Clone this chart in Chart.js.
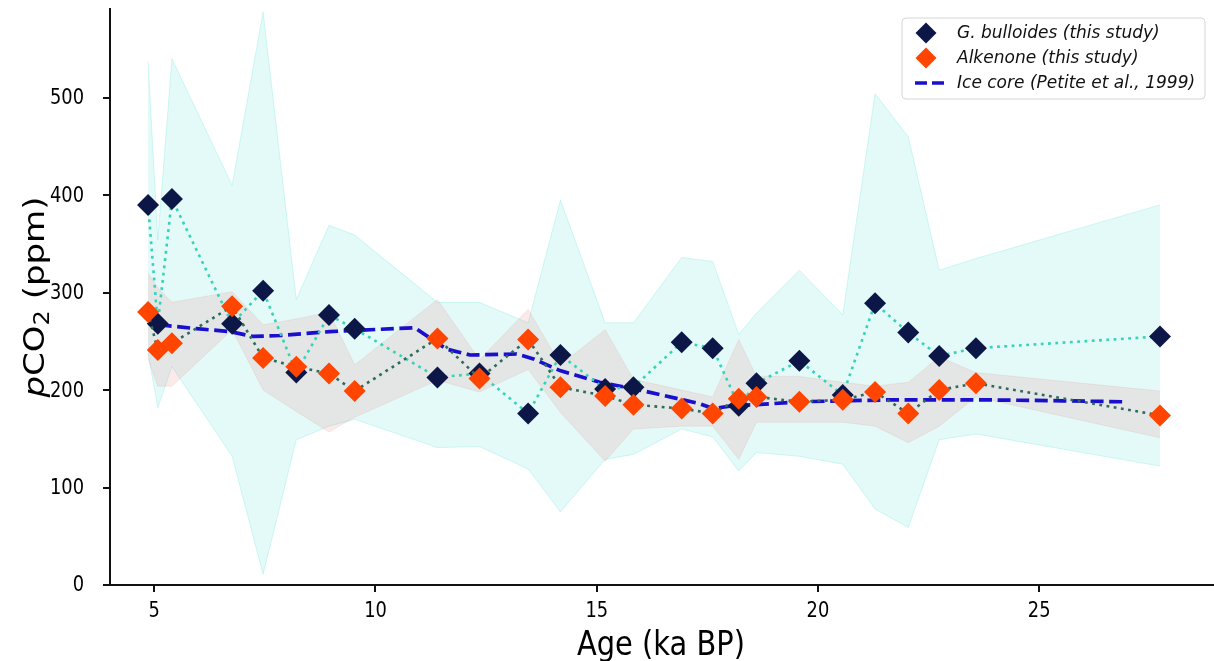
<!DOCTYPE html>
<html><head><meta charset="utf-8">
<script src="https://cdn.jsdelivr.net/npm/chart.js@4.4.1/dist/chart.umd.min.js"></script>
<style>html,body{margin:0;padding:0;background:#fff;overflow:hidden}canvas{display:block}</style>
</head><body>
<canvas id="c" width="1214" height="661"></canvas>
<script>
// ---- data ----
const ages       = [4.86, 5.08, 5.40, 6.76, 7.46, 8.21, 8.95, 9.53, 11.40, 12.35, 13.45, 14.18, 15.19, 15.83, 16.92, 17.62, 18.21, 18.61, 19.58, 20.56, 21.29, 22.04, 22.74, 23.57, 27.73];
const gBulloides = [390, 268, 396, 268, 302, 218, 277, 263, 213, 217, 176, 236, 201, 203, 249, 243, 184, 207, 230, 195, 289, 259, 235, 243, 255];
const gBullUpper = [537, 354, 540, 410, 588, 293, 369, 359, 290, 290, 269, 395, 269, 269, 336, 332, 257, 279, 323, 277, 504, 460, 323, 335, 390];
const gBullLower = [238, 182, 224, 132, 11, 149, 163, 170, 141, 142, 119, 75, 129, 134, 160, 152, 117, 136, 132, 124, 78, 59, 149, 155, 122];
const alkenone   = [280, 241, 248, 286, 233, 224, 217, 199, 253, 212, 252, 203, 194, 185, 181, 176, 191, 193, 188, 190, 198, 176, 200, 207, 174];
const alkUpper   = [320, 305, 290, 301, 267, 273, 280, 226, 293, 231, 283, 226, 262, 211, 200, 193, 252, 214, 214, 208, 204, 208, 234, 218, 199];
const alkLower   = [232, 204, 204, 262, 200, 178, 157, 172, 210, 198, 221, 177, 127, 160, 163, 163, 129, 167, 167, 167, 163, 146, 163, 193, 151];
const iceAges    = [5.10, 5.96, 6.71, 7.24, 7.84, 8.97, 10.89, 11.08, 11.61, 12.14, 13.19, 13.57, 14.17, 15.07, 15.98, 17.33, 17.63, 18.08, 18.61, 19.59, 21.63, 23.66, 25.54, 26.89];
const iceCO2     = [267, 263, 260, 255, 256, 260, 264, 258, 242, 236, 237, 232, 220, 208, 200, 186, 181, 184, 185, 188, 190, 190, 189, 188];
const xTicks = [5, 10, 15, 20, 25];
const yTicks = [0, 100, 200, 300, 400, 500];
const xTitle = 'Age (ka BP)';
const legendLabels = ['G. bulloides (this study)', 'Alkenone (this study)', 'Ice core (Petite et al., 1999)'];

// ---- styles ----
const NAVY = '#0c1748', ORANGE = '#ff4500', ICE = '#1a0fcc', TURQ = '#36d3b8', DKGREEN = '#2c6b5c';
const FONT = '"DejaVu Sans", sans-serif';
const SQ = 0.85;

const pts = (xs, ys) => xs.map((x, i) => ({x: x, y: ys[i]}));

function sqText(ctx, t, x, y, sq) {
  ctx.save(); ctx.translate(x, y); ctx.scale(sq, 1); ctx.fillText(t, 0, 0); ctx.restore();
}

const textPlugin = {
  id: 'texts',
  afterDraw(chart) {
    const ctx = chart.ctx;
    const xs = chart.scales.x, ys = chart.scales.y;
    ctx.save();
    ctx.fillStyle = '#000';
    // tick labels
    ctx.font = '21px ' + FONT;
    ctx.textAlign = 'right'; ctx.textBaseline = 'middle';
    yTicks.forEach(v => sqText(ctx, String(v), 84, ys.getPixelForValue(v) + 1, SQ));
    ctx.textAlign = 'center'; ctx.textBaseline = 'alphabetic';
    xTicks.forEach(v => sqText(ctx, String(v), xs.getPixelForValue(v), 617, SQ));
    // x title
    ctx.font = '34px ' + FONT; ctx.textAlign = 'center';
    sqText(ctx, xTitle, 661, 655, SQ);
    // y title: italic p, CO, subscript 2, (ppm)
    ctx.save();
    ctx.translate(44, 297); ctx.scale(SQ, 1); ctx.rotate(-Math.PI / 2);
    ctx.textAlign = 'left'; ctx.textBaseline = 'alphabetic';
    const parts = [
      {t: 'p', f: 'italic 34px ' + FONT, dy: 0},
      {t: 'CO', f: '34px ' + FONT, dy: 0},
      {t: '2', f: '24px ' + FONT, dy: 6},
      {t: ' (ppm)', f: '34px ' + FONT, dy: 0}
    ];
    let total = 0;
    parts.forEach(p => { ctx.font = p.f; p.w = ctx.measureText(p.t).width; total += p.w; });
    let cx = -total / 2;
    parts.forEach(p => { ctx.font = p.f; ctx.fillText(p.t, cx, p.dy); cx += p.w; });
    ctx.restore();
    // legend
    const bx = 902, by = 18, bw = 303, bh = 81, r = 4;
    ctx.beginPath();
    ctx.moveTo(bx + r, by); ctx.lineTo(bx + bw - r, by); ctx.quadraticCurveTo(bx + bw, by, bx + bw, by + r);
    ctx.lineTo(bx + bw, by + bh - r); ctx.quadraticCurveTo(bx + bw, by + bh, bx + bw - r, by + bh);
    ctx.lineTo(bx + r, by + bh); ctx.quadraticCurveTo(bx, by + bh, bx, by + bh - r);
    ctx.lineTo(bx, by + r); ctx.quadraticCurveTo(bx, by, bx + r, by); ctx.closePath();
    ctx.fillStyle = 'rgba(255,255,255,0.85)'; ctx.fill();
    ctx.strokeStyle = '#d6d6d6'; ctx.lineWidth = 1; ctx.stroke();
    const rows = [33, 58, 83];
    const diamond = (x, y, rr, c) => { ctx.beginPath(); ctx.moveTo(x - rr, y); ctx.lineTo(x, y - rr); ctx.lineTo(x + rr, y); ctx.lineTo(x, y + rr); ctx.closePath(); ctx.fillStyle = c; ctx.fill(); };
    diamond(926, rows[0], 10.5, NAVY);
    diamond(926, rows[1], 10.5, ORANGE);
    ctx.save();
    ctx.strokeStyle = ICE; ctx.lineWidth = 3.5; ctx.setLineDash([12, 5]);
    ctx.beginPath(); ctx.moveTo(915, rows[2]); ctx.lineTo(944, rows[2]); ctx.stroke();
    ctx.restore();
    ctx.fillStyle = '#111'; ctx.font = 'italic 18.5px ' + FONT; ctx.textAlign = 'left'; ctx.textBaseline = 'middle';
    legendLabels.forEach((t, i) => sqText(ctx, t, 957, rows[i], 0.92));
    ctx.restore();
  }
};

new Chart(document.getElementById('c'), {
  type: 'line',
  data: {
    datasets: [
      {data: pts(ages, gBullUpper), borderColor: 'rgba(64,224,208,0.22)', borderWidth: 1, pointRadius: 0,
       backgroundColor: 'rgba(64,224,208,0.15)', fill: '+1', order: 10},
      {data: pts(ages, gBullLower), borderColor: 'rgba(64,224,208,0.22)', borderWidth: 1, pointRadius: 0, fill: false, order: 10},
      {data: pts(ages, alkUpper), borderColor: 'rgba(230,80,80,0.10)', borderWidth: 1, pointRadius: 0,
       backgroundColor: 'rgba(230,80,80,0.12)', fill: '+1', order: 9},
      {data: pts(ages, alkLower), borderColor: 'rgba(230,80,80,0.10)', borderWidth: 1, pointRadius: 0, fill: false, order: 9},
      {data: pts(iceAges, iceCO2), borderColor: ICE, borderWidth: 3.7, borderDash: [13, 5.6], pointRadius: 0, fill: false, order: 3},
      {data: pts(ages, gBulloides), borderColor: TURQ, borderWidth: 2.6, borderDash: [2.8, 4.5], fill: false,
       pointStyle: 'rectRot', pointRadius: 11, pointBackgroundColor: NAVY, pointBorderColor: NAVY, pointBorderWidth: 0, order: 2},
      {data: pts(ages, alkenone), borderColor: DKGREEN, borderWidth: 2.6, borderDash: [2.8, 4.5], fill: false,
       pointStyle: 'rectRot', pointRadius: 11, pointBackgroundColor: ORANGE, pointBorderColor: ORANGE, pointBorderWidth: 0, order: 1}
    ]
  },
  options: {
    responsive: false, animation: false, devicePixelRatio: 1,
    layout: {autoPadding: false, padding: {top: 9, right: 0, left: 0, bottom: 0}},
    elements: {line: {tension: 0}},
    plugins: {legend: {display: false}, tooltip: {enabled: false}, filler: {propagate: false}},
    scales: {
      x: {type: 'linear', min: 4, max: 28.95,
          afterBuildTicks: s => { s.ticks = xTicks.map(v => ({value: v})); },
          afterFit: s => { s.height = 76; },
          ticks: {display: false},
          grid: {display: true, drawOnChartArea: false, drawTicks: true, tickLength: 7, color: '#111', lineWidth: 2},
          border: {display: true, color: '#111', width: 2}},
      y: {type: 'linear', min: 0, max: 591,
          afterBuildTicks: s => { s.ticks = yTicks.map(v => ({value: v})); },
          afterFit: s => { s.width = 110; },
          ticks: {display: false},
          grid: {display: true, drawOnChartArea: false, drawTicks: true, tickLength: 7, color: '#111', lineWidth: 2},
          border: {display: true, color: '#111', width: 2}}
    }
  },
  plugins: [textPlugin]
});
</script>
</body></html>
